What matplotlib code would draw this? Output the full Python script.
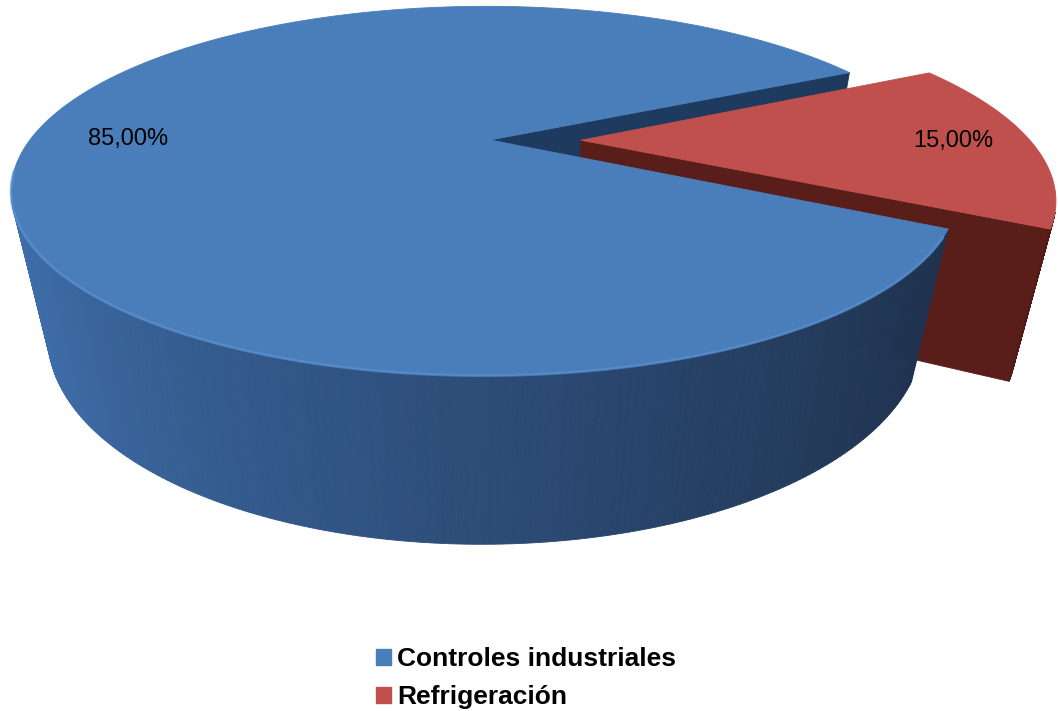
import numpy as np
import matplotlib.pyplot as plt
from matplotlib.colors import to_rgb
from matplotlib.patches import Polygon, Patch

categories = ['Controles industriales', 'Refrigeración']
shares = [85.0, 15.0]
explode = [0.0, 0.2]
start_angle = 26.6
label_radius = [0.79, 0.826]

top_colors = ['#4A7EBB', '#C0504D']
cut_colors = ['#1F3A5F', '#5A1E1A']
side_light = ['#4173B2', '#6E2522']
side_dark = ['#1D2F4A', '#4E1A17']

W, H = 1058, 711
fig = plt.figure(figsize=(W / 100, H / 100), dpi=100)
ax = fig.add_axes([0, 0, 1, 1])
ax.set_xlim(0, W)
ax.set_ylim(H, 0)
ax.axis('off')

# perspective camera looking down on the pie, turned a little to the left
elev = np.radians(22)
dist = 3.36
yaw = 0.035
focal = 1530
cx, cy = 490, 140
thick = 0.35
base = 0.965         # bottom rim is drawn a bit smaller than the top
cam = np.array([0.0, -dist * np.cos(elev), dist * np.sin(elev)])


def project(x, y, z):
    c, s = np.cos(elev), np.sin(elev)
    depth = dist + y * c - z * s + yaw * x
    up = y * s + z * c
    return cx + focal * x / depth, cy - focal * up / depth


def mix(c1, c2, k):
    a, b = np.array(to_rgb(c1)), np.array(to_rgb(c2))
    return tuple(a + (b - a) * k)


def poly(pts3d, color, z=1):
    xs, ys = project(*np.array(pts3d, dtype=float).T)
    ax.add_patch(Polygon(np.column_stack([xs, ys]), closed=True,
                         facecolor=color, edgecolor=color, lw=0.6, zorder=z))


fracs = np.array(shares) / sum(shares)
bounds = start_angle + 360 * np.concatenate([[0], np.cumsum(fracs)])

slices = []
for i in range(len(shares)):
    t0, t1 = bounds[i], bounds[i + 1]
    mid = np.radians((t0 + t1) / 2)
    ox, oy = explode[i] * np.cos(mid), explode[i] * np.sin(mid)
    slices.append((t0, t1, ox, oy))


def rim(ox, oy, a, lower=False):
    r = base if lower else 1.0
    return (ox + r * np.cos(a), oy + r * np.sin(a), -thick if lower else 0.0)


def draw_cut(i, ang, z):
    t0, t1, ox, oy = slices[i]
    a = np.radians(ang)
    poly([(ox, oy, 0), rim(ox, oy, a), rim(ox, oy, a, True), (ox, oy, -thick)],
         cut_colors[i], z)


def draw_side(i, z):
    t0, t1, ox, oy = slices[i]
    ts = np.radians(np.linspace(t0, t1, 400))
    for a, b in zip(ts[:-1], ts[1:]):
        m = (a + b) / 2
        view = cam - np.array([ox + np.cos(m), oy + np.sin(m), 0])
        if view[0] * np.cos(m) + view[1] * np.sin(m) <= 0:
            continue
        k = ((1 + np.cos(m)) / 2) ** 0.8
        col = mix(side_light[i], side_dark[i], k)
        poly([rim(ox, oy, a), rim(ox, oy, b),
              rim(ox, oy, b, True), rim(ox, oy, a, True)], col, z)


def draw_top(i, z):
    t0, t1, ox, oy = slices[i]
    ts = np.radians(np.linspace(t0, t1, 400))
    poly([(ox, oy, 0)] + [rim(ox, oy, t) for t in ts], top_colors[i], z)


# back to front
draw_cut(0, bounds[0], 1)
draw_cut(1, bounds[1], 2)
draw_side(1, 2)
draw_top(1, 3)
draw_side(0, 4)
draw_top(0, 5)

# soft highlight on the front rim of the big slice
ts = np.radians(np.linspace(190, 330, 200))
rx, ry = project(np.cos(ts), np.sin(ts), 0 * ts)
ax.plot(rx, ry, color='#5E95D6', lw=2, alpha=0.6, zorder=6)

# value labels
for i, (t0, t1, ox, oy) in enumerate(slices):
    mid = np.radians((t0 + t1) / 2)
    r = label_radius[i]
    lx, ly = project(ox + r * np.cos(mid), oy + r * np.sin(mid), 0)
    txt = '{:.2f}%'.format(shares[i]).replace('.', ',')
    ax.text(lx, ly, txt, ha='center', va='center', fontsize=17,
            family='Liberation Sans', color='black', zorder=10)

handles = [Patch(facecolor=c, edgecolor=c) for c in top_colors]
ax.legend(handles, categories, loc='upper left',
          bbox_to_anchor=(376 / W, 1 - 647 / H), frameon=False,
          prop={'family': 'Liberation Sans', 'weight': 'bold', 'size': 19},
          handlelength=0.55, handleheight=0.55, handletextpad=0.25,
          labelspacing=0.53, borderpad=0, borderaxespad=0)

fig.savefig('out.png', dpi=100)
